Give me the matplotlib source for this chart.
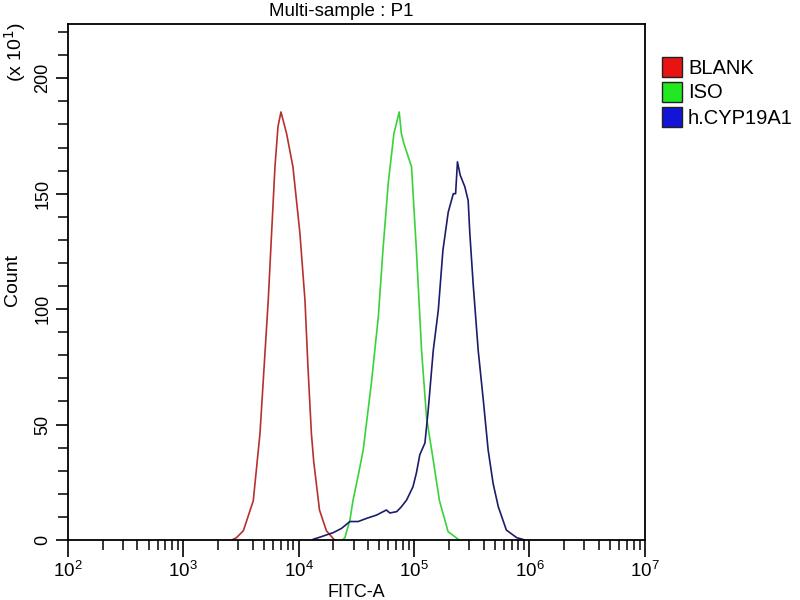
import matplotlib
matplotlib.use("Agg")
import matplotlib.pyplot as plt
from matplotlib.patches import Rectangle
from matplotlib.ticker import LogLocator, MultipleLocator, FixedLocator

plt.rcParams['font.family'] = ['Liberation Sans', 'DejaVu Sans']

# histogram outlines: log10(FITC-A) and count (x10)
blank_log = [3.42, 3.46, 3.52, 3.606, 3.664, 3.70, 3.736, 3.765, 3.794, 3.82,
             3.846, 3.895, 3.95, 4.01, 4.054, 4.08, 4.11, 4.13, 4.18, 4.24, 4.31]
blank_cnt = [0, 1, 4, 17, 46, 75, 104, 133, 161.6, 179,
             185.4, 176, 161.6, 133, 104, 75, 46, 34, 13, 4, 0]

iso_log = [4.38, 4.40, 4.444, 4.47, 4.516, 4.559, 4.63, 4.69, 4.73, 4.776, 4.825,
           4.871, 4.89, 4.91, 4.978, 5.02, 5.065, 5.108, 5.166, 5.22, 5.295,
           5.37, 5.39]
iso_cnt = [0, 1, 8.7, 17, 28, 39, 68, 96.7, 125.5, 154.5, 176,
           185.4, 176, 172, 161.6, 125.5, 82, 53, 34.6, 17, 3.6,
           0.8, 0]

cyp_log = [4.126, 4.20, 4.24, 4.30, 4.37, 4.444, 4.516, 4.59, 4.675, 4.76,
           4.79, 4.85, 4.89, 4.935, 4.99, 5.02, 5.05, 5.094, 5.122, 5.166,
           5.21, 5.25, 5.296, 5.34, 5.36, 5.376, 5.40, 5.44, 5.469, 5.483,
           5.512, 5.556, 5.60, 5.642, 5.685, 5.73, 5.80, 5.89, 5.94, 5.96]
cyp_cnt = [0.3, 1.5, 2.2, 3.2, 5, 8, 8, 9.4, 10.8, 13,
           11.7, 12.3, 14.4, 17.3, 23, 29, 37, 42, 56, 82,
           99.6, 125.5, 142, 150, 150, 163.8, 158, 153, 147, 133,
           111, 82, 60.6, 39, 24.5, 14.4, 4.3, 1, 0.3, 0]

names = ['BLANK', 'ISO', 'h.CYP19A1']
line_colors = ['#b8302c', '#3ad23a', '#1c1c6a']
box_colors = ['#e81414', '#22e822', '#1414d8']
y_labels = [0, 50, 100, 150, 200]

fig = plt.figure(figsize=(8, 6), dpi=100)
ax = fig.add_axes([0.085, 0.1, 0.721, 0.86])

for lg, ct, col in zip([blank_log, iso_log, cyp_log],
                       [blank_cnt, iso_cnt, cyp_cnt], line_colors):
    ax.plot([10 ** v for v in lg], ct, color=col, lw=1.2)

ax.set_xscale('log')
ax.set_xlim(1e2, 1e7)
ax.set_ylim(0, 223.5)

ax.xaxis.set_major_locator(LogLocator(base=10, numticks=10))
ax.xaxis.set_minor_locator(LogLocator(base=10, subs=range(2, 10), numticks=20))
ax.yaxis.set_major_locator(FixedLocator(y_labels))
ax.yaxis.set_minor_locator(MultipleLocator(10))
ax.set_yticklabels([str(v) for v in y_labels], rotation=90, va='center')

ax.tick_params(axis='x', which='major', direction='out', length=12, width=1.2,
               labelsize=13.5, pad=3)
ax.tick_params(axis='x', which='minor', direction='out', length=7, width=1.1)
ax.tick_params(axis='y', which='major', direction='out', length=9, width=1.2,
               labelsize=13, pad=3)
ax.tick_params(axis='y', which='minor', direction='out', length=7, width=1.1)
for sp in ax.spines.values():
    sp.set_linewidth(1.3)

ax.set_xlabel('FITC-A', fontsize=13, labelpad=2)
fig.text(341 / 800, 1 - 11 / 600, 'Multi-sample : P1', fontsize=13.5,
         ha='center', va='center')
fig.text(13 / 800, 1 - 280 / 600, 'Count', rotation=90, fontsize=14,
         ha='center', va='center')
fig.text(15 / 800, 1 - 52 / 600, r'(x 10$^{1}$)', rotation=90, fontsize=14,
         ha='center', va='center')

# legend boxes on the right
for i, (nm, bc) in enumerate(zip(names, box_colors)):
    ytop = 57 + i * 25
    fig.add_artist(Rectangle((662 / 800, 1 - (ytop + 20) / 600), 20 / 800, 20 / 600,
                             transform=fig.transFigure, facecolor=bc,
                             edgecolor='#222222', lw=1))
    fig.text(688 / 800, 1 - (ytop + 11) / 600, nm, fontsize=14.5,
             ha='left', va='center')

fig.savefig('out.png', dpi=100)
